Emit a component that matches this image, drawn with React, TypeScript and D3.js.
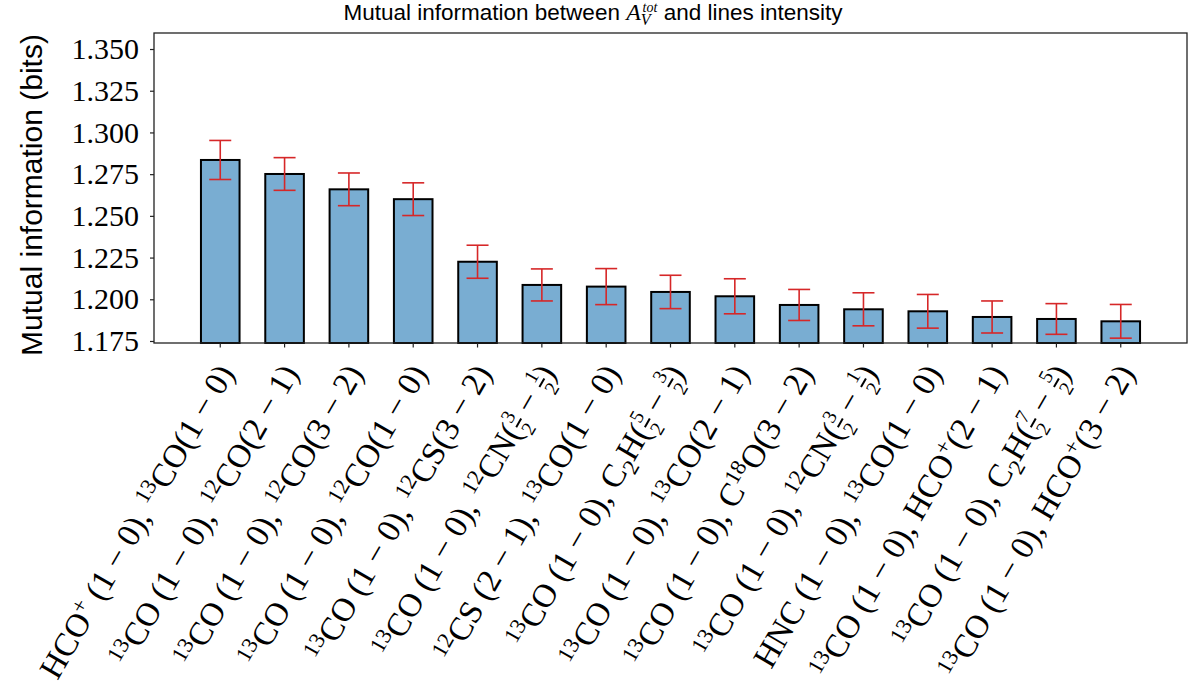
import React, { useEffect, useRef } from "react";
import * as d3 from "d3";

// line pairs, TeX-ish: ^{} sup, _{} sub, \frac{a}{b}
const labels = [
  "HCO^{+} (1 − 0), ^{13}CO(1 − 0)",
  "^{13}CO (1 − 0), ^{12}CO(2 − 1)",
  "^{13}CO (1 − 0), ^{12}CO(3 − 2)",
  "^{13}CO (1 − 0), ^{12}CO(1 − 0)",
  "^{13}CO (1 − 0), ^{12}CS(3 − 2)",
  "^{13}CO (1 − 0), ^{12}CN(\\frac{3}{2} − \\frac{1}{2})",
  "^{12}CS (2 − 1), ^{13}CO(1 − 0)",
  "^{13}CO (1 − 0), C_{2}H(\\frac{5}{2} − \\frac{3}{2})",
  "^{13}CO (1 − 0), ^{13}CO(2 − 1)",
  "^{13}CO (1 − 0), C^{18}O(3 − 2)",
  "^{13}CO (1 − 0), ^{12}CN(\\frac{3}{2} − \\frac{1}{2})",
  "HNC (1 − 0), ^{13}CO(1 − 0)",
  "^{13}CO (1 − 0), HCO^{+}(2 − 1)",
  "^{13}CO (1 − 0), C_{2}H(\\frac{7}{2} − \\frac{5}{2})",
  "^{13}CO (1 − 0), HCO^{+}(3 − 2)",
];

const values = [
  1.2835, 1.2751, 1.2659, 1.26, 1.2225, 1.2086, 1.2076, 1.2044, 1.2018, 1.1966,
  1.194, 1.1928, 1.1894, 1.1882, 1.1868,
];

const errors = [
  0.0117, 0.0098, 0.0098, 0.0098, 0.0099, 0.0096, 0.0108, 0.01, 0.0105, 0.0093,
  0.0099, 0.0101, 0.0096, 0.0092, 0.0101,
];

const yTicks = [1.175, 1.2, 1.225, 1.25, 1.275, 1.3, 1.325, 1.35];
const yDomain = [1.1738, 1.3596];

const W = 1196;
const H = 700;
const plot = { left: 154, right: 1187, top: 33, bottom: 343 };

const serif = "'Liberation Serif', 'DejaVu Serif', serif";
const sans = "'Liberation Sans', 'DejaVu Sans', sans-serif";

// append tspans for a small TeX-like string
function mathText(sel: any, s: string, f: number) {
  const re = /\^\{([^}]*)\}|_\{([^}]*)\}|\\frac\{([^}]*)\}\{([^}]*)\}|([^\^_\\]+)/g;
  let shift = 0;
  const add = (t: string, size: number, off: number, dx = 0, deco = "") => {
    const ts = sel
      .append("tspan")
      .text(t)
      .attr("font-size", size)
      .attr("dy", off - shift);
    if (dx) ts.attr("dx", dx);
    if (deco) ts.style("text-decoration", deco);
    shift = off;
  };
  let m: RegExpExecArray | null;
  while ((m = re.exec(s))) {
    if (m[1] !== undefined) add(m[1], 0.68 * f, -0.34 * f);
    else if (m[2] !== undefined) add(m[2], 0.68 * f, 0.22 * f);
    else if (m[3] !== undefined) {
      add(m[3], 0.6 * f, -0.42 * f, 0.04 * f);
      add(m[4], 0.6 * f, 0.3 * f, -0.3 * f * m[3].length, "overline");
    } else add(m[5], f, 0);
  }
}

export default function App() {
  const ref = useRef<SVGSVGElement>(null);

  useEffect(() => {
    const svg = d3.select(ref.current);
    svg.selectAll("*").remove();

    const x = d3
      .scaleBand<number>()
      .domain(d3.range(labels.length))
      .range([plot.left, plot.right])
      .paddingInner(0.4)
      .paddingOuter(0.73);
    const y = d3.scaleLinear().domain(yDomain).range([plot.bottom, plot.top]);

    // bars
    svg
      .append("g")
      .selectAll("rect")
      .data(values)
      .enter()
      .append("rect")
      .attr("x", (_d, i) => x(i)!)
      .attr("width", x.bandwidth())
      .attr("y", (d) => y(d))
      .attr("height", (d) => plot.bottom - y(d))
      .attr("fill", "#79add2")
      .attr("stroke", "#000")
      .attr("stroke-width", 2);

    // error bars
    const eb = svg
      .append("g")
      .attr("stroke", "#d62728")
      .attr("stroke-width", 1.6)
      .selectAll("g")
      .data(values)
      .enter()
      .append("g")
      .attr("transform", (_d, i) => `translate(${x(i)! + x.bandwidth() / 2},0)`);
    eb.append("line")
      .attr("y1", (d, i) => y(d + errors[i]))
      .attr("y2", (d, i) => y(d - errors[i]));
    eb.append("line")
      .attr("x1", -11)
      .attr("x2", 11)
      .attr("y1", (d, i) => y(d + errors[i]))
      .attr("y2", (d, i) => y(d + errors[i]));
    eb.append("line")
      .attr("x1", -11)
      .attr("x2", 11)
      .attr("y1", (d, i) => y(d - errors[i]))
      .attr("y2", (d, i) => y(d - errors[i]));

    // frame
    svg
      .append("rect")
      .attr("x", plot.left)
      .attr("y", plot.top)
      .attr("width", plot.right - plot.left)
      .attr("height", plot.bottom - plot.top)
      .attr("fill", "none")
      .attr("stroke", "#222")
      .attr("stroke-width", 1.3);

    // y axis
    const yAxis = svg
      .append("g")
      .attr("transform", `translate(${plot.left},0)`)
      .call(
        d3
          .axisLeft(y)
          .tickValues(yTicks)
          .tickSize(4)
          .tickPadding(11)
          .tickFormat(d3.format(".3f") as any)
      );
    yAxis.select(".domain").remove();
    yAxis.selectAll("line").attr("stroke", "#222").attr("stroke-width", 1.2);
    yAxis
      .selectAll("text")
      .attr("font-family", serif)
      .attr("font-size", 30)
      .attr("fill", "#000");

    // x axis ticks
    const xAxis = svg
      .append("g")
      .attr("transform", `translate(0,${plot.bottom})`)
      .call(
        d3
          .axisBottom(x)
          .tickSize(4.5)
          .tickFormat(() => "")
      );
    xAxis.select(".domain").remove();
    xAxis.selectAll("line").attr("stroke", "#222").attr("stroke-width", 1.2);

    // rotated labels
    const f = 33;
    labels.forEach((lab, i) => {
      const cx = x(i)! + x.bandwidth() / 2;
      const t = svg
        .append("text")
        .attr("transform", `translate(${cx + 15},${plot.bottom + 30}) rotate(-60)`)
        .attr("text-anchor", "end")
        .attr("font-family", serif)
        .attr("font-size", f)
        .attr("fill", "#000")
        .style("white-space", "pre");
      mathText(t, lab, f);
    });

    // y label
    svg
      .append("text")
      .attr("transform", `translate(42,${(plot.top + plot.bottom) / 2 + 7}) rotate(-90)`)
      .attr("text-anchor", "middle")
      .attr("font-family", sans)
      .attr("font-size", 30)
      .attr("fill", "#000")
      .text("Mutual information (bits)");

    // title
    const title = svg
      .append("text")
      .attr("x", 593)
      .attr("y", 20)
      .attr("text-anchor", "middle")
      .attr("font-family", sans)
      .attr("font-size", 22.5)
      .attr("fill", "#000")
      .style("white-space", "pre");
    title.append("tspan").text("Mutual information between ");
    title
      .append("tspan")
      .attr("font-family", serif)
      .attr("font-style", "italic")
      .attr("font-size", 24)
      .text("A");
    title
      .append("tspan")
      .attr("font-family", serif)
      .attr("font-style", "italic")
      .attr("font-size", 16)
      .attr("dy", 5)
      .text("V");
    title
      .append("tspan")
      .attr("font-family", serif)
      .attr("font-style", "italic")
      .attr("font-size", 14)
      .attr("dx", -8)
      .attr("dy", -13)
      .text("tot");
    title.append("tspan").attr("dy", 8).text(" and lines intensity");
  }, []);

  return (
    <div style={{ position: "absolute", left: 0, top: 0 }}>
      <svg ref={ref} width={W} height={H} style={{ display: "block", background: "#fff" }} />
    </div>
  );
}
